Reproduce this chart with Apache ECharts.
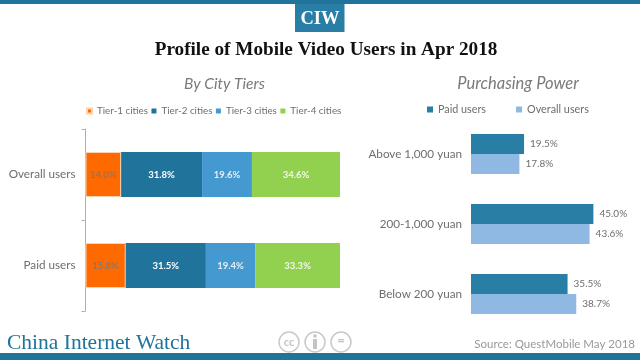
<!DOCTYPE html>
<html><head><meta charset="utf-8">
<style>html,body{margin:0;padding:0;background:#fff}#c{width:640px;height:360px}</style>
<script src="https://cdn.jsdelivr.net/npm/echarts@6/dist/echarts.min.js"></script></head>
<body><div id="c"></div>
<script>
const tierCategories = ['Overall users', 'Paid users'];
const tier1 = [14.0, 15.8];
const tier2 = [31.8, 31.5];
const tier3 = [19.6, 19.4];
const tier4 = [34.6, 33.3];
const powerCategories = ['Above 1,000 yuan', '200-1,000 yuan', 'Below 200 yuan'];
const paidUsers = [19.5, 45.0, 35.5];
const overallUsers = [17.8, 43.6, 38.7];

const SANS = 'Lato';
const GREY = '#6e6e6e';
const pct = p => p.value.toFixed(1) + '%';
const tierSeries = (name, data, color, labelColor, extra) => ({
  name, type: 'bar', stack: 'tiers', data, barWidth: 45, xAxisIndex: 0, yAxisIndex: 0,
  itemStyle: Object.assign({ color }, extra || {}),
  label: { show: true, position: 'inside', formatter: pct, color: labelColor, fontFamily: SANS, fontSize: 9.5, fontWeight: 'bold' }
});
const powerSeries = (name, data, color) => ({
  name, type: 'bar', data, xAxisIndex: 1, yAxisIndex: 1, barWidth: 20, barGap: 0,
  itemStyle: { color },
  label: { show: true, position: 'right', distance: 6, formatter: pct, color: GREY, fontFamily: SANS, fontSize: 10 }
});
const txt = (x, y, text, font, fill, align) => ({
  type: 'text', x, y, silent: true,
  style: { text, font, fill, align: align || 'left', verticalAlign: 'middle' }
});
const ring = (cx, cy) => ({ type: 'circle', shape: { cx, cy, r: 10 }, silent: true, style: { fill: '#fff', stroke: '#c9c9c9', lineWidth: 1.5 } });

const chart = echarts.init(document.getElementById('c'));
chart.setOption({
  animation: false,
  backgroundColor: '#fff',
  title: [
    { text: 'Profile of Mobile Video Users in Apr 2018', left: 326, top: 50, padding: 0, textAlign: 'center', textVerticalAlign: 'middle',
      textStyle: { fontFamily: 'Liberation Serif', fontSize: 19.2, fontWeight: 'bold', color: '#111' } },
    { text: 'By City Tiers', left: 224.5, top: 84, padding: 0, textAlign: 'center', textVerticalAlign: 'middle',
      textStyle: { fontFamily: SANS, fontSize: 15.5, fontStyle: 'italic', fontWeight: 'normal', color: '#7a7a7a' } },
    { text: 'Purchasing Power', left: 518, top: 84, padding: 0, textAlign: 'center', textVerticalAlign: 'middle',
      textStyle: { fontFamily: SANS, fontSize: 16.5, fontStyle: 'italic', fontWeight: 'normal', color: '#7a7a7a' } }
  ],
  legend: [
    { data: ['Tier-1 cities', 'Tier-2 cities', 'Tier-3 cities', 'Tier-4 cities'], left: 86, top: 106, icon: 'rect',
      itemWidth: 5, itemHeight: 5, itemGap: 3.5, padding: 0,
      textStyle: { fontFamily: SANS, fontSize: 9.8, color: GREY } },
    { data: ['Paid users', 'Overall users'], left: 427, top: 104, icon: 'rect',
      itemWidth: 6, itemHeight: 6, itemGap: 30, padding: 0,
      textStyle: { fontFamily: SANS, fontSize: 10.8, color: GREY } }
  ],
  grid: [
    { left: 85.5, top: 129, width: 254.5, height: 182 },
    { left: 471, top: 119, width: 136, height: 210 }
  ],
  xAxis: [
    { gridIndex: 0, type: 'value', min: 0, max: 100, show: false },
    { gridIndex: 1, type: 'value', min: 0, max: 50, show: false }
  ],
  yAxis: [
    { gridIndex: 0, type: 'category', inverse: true, data: tierCategories,
      axisLine: { show: true, lineStyle: { color: '#b0b0b0' } },
      axisTick: { show: true, length: 4, lineStyle: { color: '#b0b0b0' } },
      axisLabel: { margin: 10, color: GREY, fontFamily: SANS, fontSize: 11.7 } },
    { gridIndex: 1, type: 'category', inverse: true, data: powerCategories,
      axisLine: { show: false }, axisTick: { show: false },
      axisLabel: { margin: 9, color: GREY, fontFamily: SANS, fontSize: 11.7 } }
  ],
  series: [
    tierSeries('Tier-1 cities', tier1, '#ff6a00', '#8f7564', { borderColor: '#ffd2b0', borderWidth: 1 }),
    tierSeries('Tier-2 cities', tier2, '#20739b', '#fff'),
    tierSeries('Tier-3 cities', tier3, '#4599d1', '#e8eef2'),
    tierSeries('Tier-4 cities', tier4, '#92d14f', '#f2f7ea'),
    powerSeries('Paid users', paidUsers, '#297ea6'),
    powerSeries('Overall users', overallUsers, '#8fb9e2')
  ],
  graphic: [
    { type: 'rect', shape: { x: 0, y: 0, width: 640, height: 4 }, silent: true, style: { fill: '#20739b' } },
    { type: 'rect', shape: { x: 295, y: 4, width: 49.5, height: 28 }, silent: true, style: { fill: '#297ea6' } },
    txt(320, 19, 'CIW', 'bold 18.5px "Liberation Serif"', '#fff', 'center'),
    { type: 'rect', shape: { x: 0, y: 353, width: 640, height: 7 }, silent: true, style: { fill: '#20739b' } },
    txt(7, 343, 'China Internet Watch', '21.5px "Liberation Serif"', '#20739b'),
    ring(289, 342), txt(289, 342, 'cc', 'bold 11px "Lato"', '#c4c4c4', 'center'),
    ring(315, 342),
    { type: 'circle', shape: { cx: 315, cy: 336, r: 1.8 }, silent: true, style: { fill: '#c4c4c4' } },
    { type: 'rect', shape: { x: 313, y: 339, width: 4, height: 10 }, silent: true, style: { fill: '#c4c4c4' } },
    ring(341, 342), txt(341, 341, '=', 'bold 13px "Lato"', '#c4c4c4', 'center'),
    txt(635, 344, 'Source: QuestMobile May 2018', '11.5px "Lato"', '#999999', 'right')
  ]
});
</script></body></html>
